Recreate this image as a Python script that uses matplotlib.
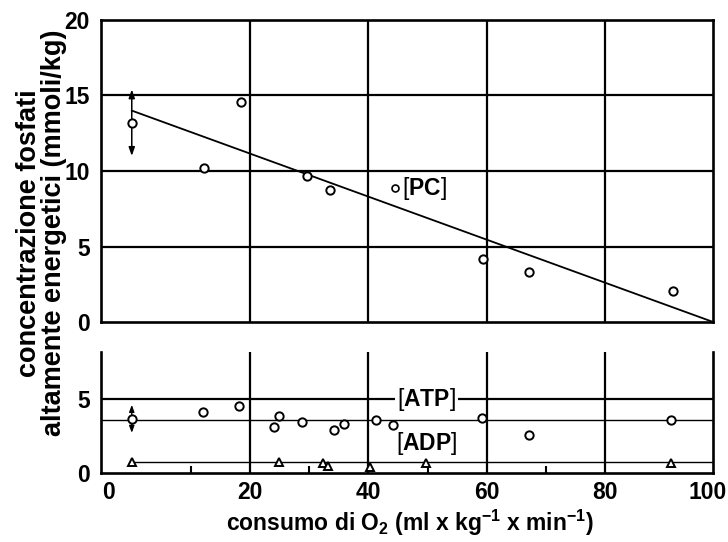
import matplotlib
matplotlib.use('Agg')
import matplotlib.pyplot as plt
from matplotlib import font_manager

names = {f.name for f in font_manager.fontManager.ttflist}
FONT = 'Liberation Sans Narrow' if 'Liberation Sans Narrow' in names else 'Liberation Sans'
WIDE = 'Liberation Sans'
plt.rcParams['font.family'] = [FONT, 'DejaVu Sans']
plt.rcParams['mathtext.fontset'] = 'custom'
plt.rcParams['mathtext.rm'] = FONT
plt.rcParams['mathtext.bf'] = FONT + ':bold'

# ---------------- data ----------------
pc_x = [0, 12.2, 18.4, 29.6, 33.5, 59.3, 67.2, 91.5]
pc_y = [13.2, 10.2, 14.55, 9.65, 8.75, 4.15, 3.3, 2.05]
pc_err_first = 2.2
pc_fit_intercept = 14.0
pc_fit_slope = -0.1425
pc_fit_xrange = [0, 98.3]
pc_label_point = (44.4, 8.85)

atp_x = [0, 12.1, 18.1, 24.9, 24.1, 28.7, 34.1, 35.9, 41.3, 44.2, 59.2, 67.2, 91.1]
atp_y = [3.67, 4.13, 4.56, 3.83, 3.11, 3.44, 2.93, 3.31, 3.56, 3.27, 3.76, 2.59, 3.61]
atp_err_first = 0.95
atp_mean = 3.6

adp_x = [0, 24.8, 32.3, 33.2, 40.3, 49.8, 91.1]
adp_y = [0.77, 0.77, 0.66, 0.48, 0.39, 0.66, 0.66]
adp_mean = 0.75

x_tick_labels = ['0', '20', '40', '60', '80', '100']
x_grid = [20, 40, 60, 80]
x_minor = [10, 30, 50, 70]
top_y_ticks = [0, 5, 10, 15, 20]
bot_y_ticks = [0, 5]

# ---------------- layout ----------------
W, H = 728, 542
fig = plt.figure(figsize=(W / 100, H / 100), dpi=100)
XLIM = (-5.2, 98.3)
x_tick_pos = [-3.9, 20, 40, 60, 80, 97.3]

L, R = 101 / W, 713.5 / W
ax1 = fig.add_axes([L, 1 - 322 / H, R - L, (322 - 20) / H])
ax2 = fig.add_axes([L, 1 - 473 / H, R - L, (473 - 352) / H])

FS = 16.5
SPINE_LW = 1.9
GRID_LW = 1.6

for ax in (ax1, ax2):
    ax.set_xlim(*XLIM)
    for s in ax.spines.values():
        s.set_linewidth(SPINE_LW)
    ax.tick_params(axis='y', length=0, labelsize=FS, pad=8)
    ax.tick_params(axis='x', length=0, labelsize=FS, pad=6)
    for gx in x_grid:
        ax.axvline(gx, color='black', lw=GRID_LW, zorder=1)

# ---- top panel ----
ax1.set_ylim(0, 20)
ax1.set_yticks(top_y_ticks)
ax1.set_yticklabels([str(t) for t in top_y_ticks], fontweight='bold', fontsize=FS)
ax1.set_xticks([])
for gy in top_y_ticks[1:-1]:
    ax1.axhline(gy, color='black', lw=GRID_LW, zorder=1)

fx = pc_fit_xrange
ax1.plot(fx, [pc_fit_intercept + pc_fit_slope * v for v in fx], color='black', lw=1.3, zorder=2)
for sgn in (1, -1):
    ax1.annotate('', xy=(pc_x[0], pc_y[0] + sgn * pc_err_first), xytext=(pc_x[0], pc_y[0]),
                 arrowprops=dict(arrowstyle='-|>,head_length=0.5,head_width=0.18', lw=1.1,
                                 color='black', shrinkA=0, shrinkB=0), zorder=2)
ax1.plot(pc_x, pc_y, linestyle='none', marker='o', ms=6, mfc='white', mec='black', mew=1.4, zorder=4)
ax1.plot([pc_label_point[0]], [pc_label_point[1]], linestyle='none', marker='o', ms=5,
         mfc='white', mec='black', mew=1.2, zorder=4)
ax1.text(pc_label_point[0] + 1.2, pc_label_point[1], r'[$\mathbf{PC}$]', fontsize=FS,
         ha='left', va='center', zorder=5)

# ---- bottom panel ----
ax2.set_ylim(0, 8.2)
ax2.set_yticks(bot_y_ticks)
ax2.set_yticklabels([str(t) for t in bot_y_ticks], fontweight='bold', fontsize=FS)
ax2.set_xticks(x_tick_pos)
ax2.set_xticklabels(x_tick_labels, fontweight='bold', fontsize=FS)
ax2.set_xticks(x_minor, minor=True)
ax2.tick_params(axis='x', which='minor', direction='in', length=5, width=1.5)
ax2.spines['top'].set_visible(False)
ax2.axhline(5, color='black', lw=GRID_LW, zorder=1)

ax2.plot(XLIM, [atp_mean, atp_mean], color='black', lw=1.0, zorder=2)
ax2.plot([adp_x[0], XLIM[1]], [adp_mean, adp_mean], color='black', lw=1.0, zorder=2)
for sgn in (1, -1):
    ax2.annotate('', xy=(atp_x[0], atp_y[0] + sgn * atp_err_first), xytext=(atp_x[0], atp_y[0]),
                 arrowprops=dict(arrowstyle='-|>,head_length=0.4,head_width=0.15', lw=1.0,
                                 color='black', shrinkA=0, shrinkB=0), zorder=2)
ax2.plot(atp_x, atp_y, linestyle='none', marker='o', ms=6, mfc='white', mec='black', mew=1.4, zorder=4)
ax2.plot(adp_x, adp_y, linestyle='none', marker='^', ms=6, mfc='white', mec='black', mew=1.4, zorder=4)

ax2.text(49.8, 5.0, r'[$\mathbf{ATP}$]', fontsize=FS, ha='center', va='center', zorder=5,
         bbox=dict(facecolor='white', edgecolor='none', pad=1.5))
ax2.text(49.8, 2.0, r'[$\mathbf{ADP}$]', fontsize=FS, ha='center', va='center', zorder=5)

ax1.set_xlim(*XLIM)
ax2.set_xlim(*XLIM)

# ---- axis titles ----
fig.text(0.057, 0.57, 'concentrazione fosfati\naltamente energetici (mmoli/kg)', rotation=90,
         ha='center', va='center', fontsize=19.5, fontweight='bold', linespacing=0.92,
         family=[WIDE, 'DejaVu Sans'])
fig.text(0.563, 0.036, r'consumo di O$_\mathbf{2}$ (ml x kg$^{\mathbf{-1}}$ x min$^{\mathbf{-1}}$)',
         ha='center', va='center', fontsize=FS, fontweight='bold')

fig.savefig('out.png', dpi=100)
